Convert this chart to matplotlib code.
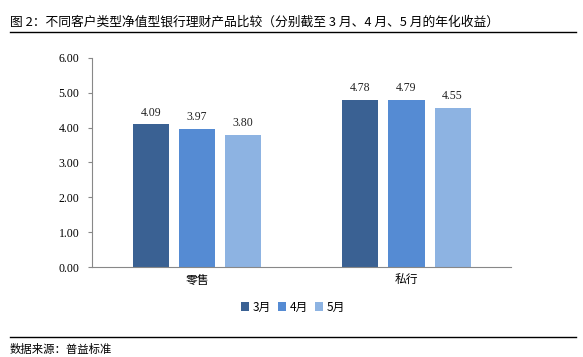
import matplotlib
matplotlib.use("Agg")
import matplotlib.pyplot as plt
import numpy as np

plt.rcParams['font.family'] = ['Noto Sans CJK SC', 'DejaVu Sans']

categories = ['零售', '私行']
months = ['3月', '4月', '5月']
values = [
  [4.09, 4.78],
  [3.97, 4.79],
  [3.80, 4.55],
]
colors = ['#3A6193', '#558BD3', '#8DB3E2']
yticks = [0, 1, 2, 3, 4, 5, 6]

fig = plt.figure(figsize=(5.83, 3.57), dpi=100)
ax = fig.add_axes([0.158, 0.252, 0.719, 0.586])

x = np.arange(len(categories))
width = 0.172
step = 0.22
for k, (m, vals) in enumerate(zip(months, values)):
  pos = x + (k - 1) * step
  bars = ax.bar(pos, vals, width=width, color=colors[k], label=m)
  for b, v in zip(bars, vals):
    ax.text(b.get_x() + b.get_width() / 2, v + 0.17, '%.2f' % v,
            ha='center', va='bottom', fontsize=8.5, family='Liberation Serif',
            color='#222222')

ax.set_xlim(-0.5, 1.5)
ax.set_ylim(0, 6)
ax.set_yticks(yticks)
ax.set_yticklabels(['%.2f' % t for t in yticks], family='Liberation Serif', fontsize=8.5)
ax.set_xticks(x)
ax.set_xticklabels(categories, fontsize=8.5)
ax.tick_params(axis='x', length=0, pad=5)
ax.tick_params(axis='y', length=3, direction='out', color='#888888', pad=6)
for s in ['top', 'right']:
  ax.spines[s].set_visible(False)
for s in ['left', 'bottom']:
  ax.spines[s].set_color('#888888')
  ax.spines[s].set_linewidth(0.8)

ax.legend(loc='center', bbox_to_anchor=(293 / 583, 1 - 307 / 357),
          bbox_transform=fig.transFigure, ncol=3, frameon=False, fontsize=8.5,
          handlelength=0.7, handleheight=0.7, handletextpad=0.3, columnspacing=0.6)

# title, rules and source
fig.text(10 / 583, 1 - 22 / 357,
         '图 2：不同客户类型净值型银行理财产品比较（分别截至 3 月、4 月、5 月的年化收益）',
         fontsize=9.2, va='center', ha='left')
fig.add_artist(plt.Line2D([10 / 583, 576 / 583], [1 - 32 / 357] * 2, color='black', lw=1))
fig.add_artist(plt.Line2D([10 / 583, 576 / 583], [1 - 337 / 357] * 2, color='black', lw=1))
fig.text(10 / 583, 1 - 349 / 357, '数据来源：普益标准', fontsize=8.2, va='center', ha='left')

fig.savefig('out.png', dpi=100)
